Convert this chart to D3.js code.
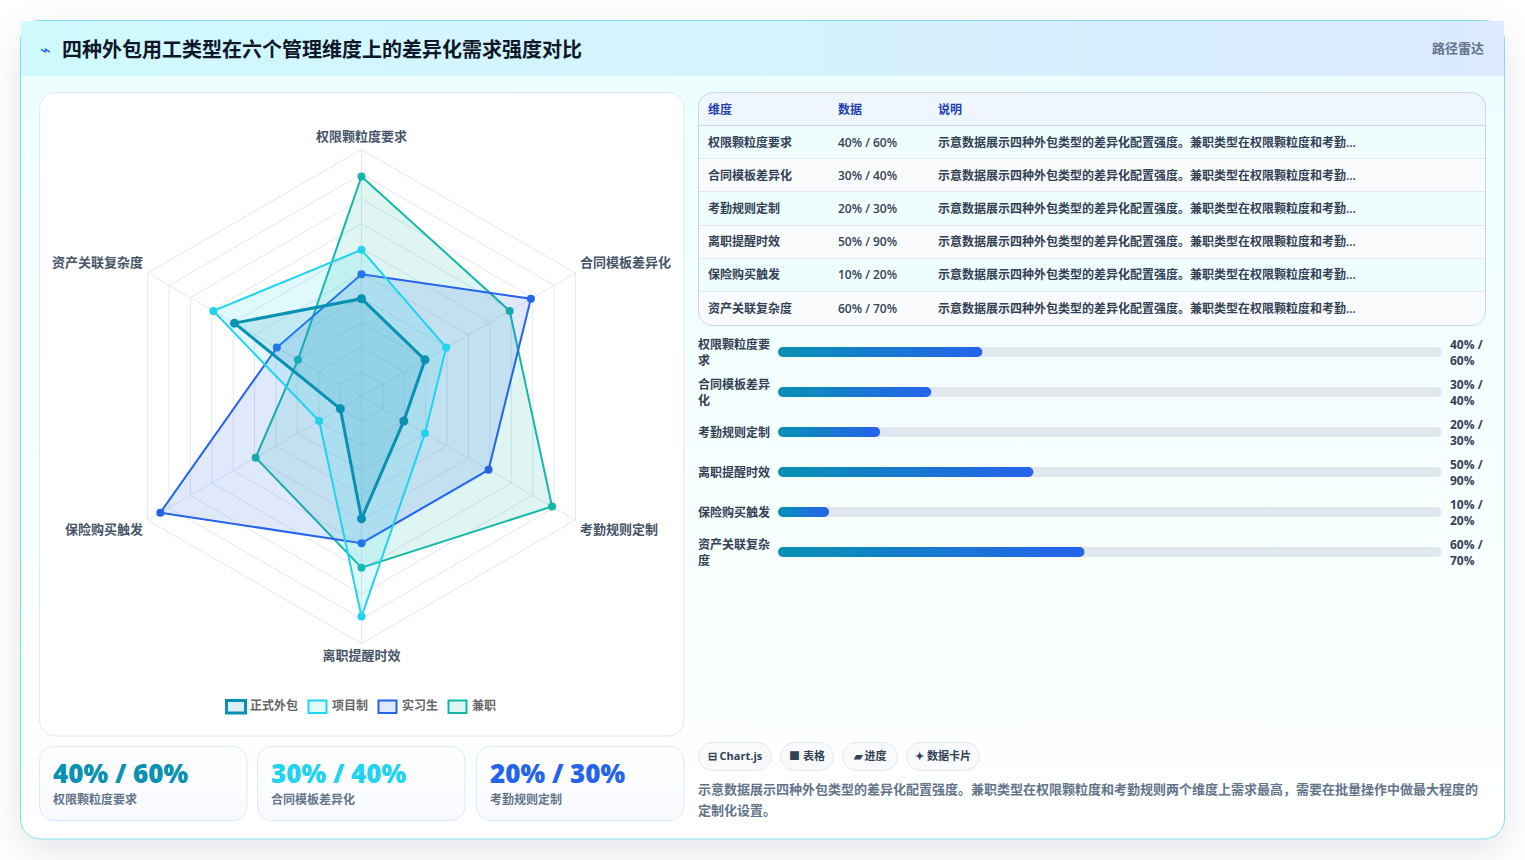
<!DOCTYPE html>
<html lang="zh-CN">
<head>
<meta charset="utf-8">
<title>外包用工差异化需求强度</title>
<script src="https://cdn.jsdelivr.net/npm/d3@7/dist/d3.min.js"></script>
<style>
  html, body { margin: 0; padding: 0; background: #fff; overflow: hidden; }
  svg { display: block; }
  text { font-family: "Open Sans", "Noto Sans CJK SC", sans-serif; }
</style>
</head>
<body>
<div id="root"></div>
<script>
// Management dimensions and demand strength (%) per staffing type
const dimensions = ["权限颗粒度要求", "合同模板差异化", "考勤规则定制", "离职提醒时效", "保险购买触发", "资产关联复杂度"];
const seriesNames = ["正式外包", "项目制", "实习生", "兼职"];
const seriesColors = ["#0891b2", "#22d3ee", "#2563eb", "#14b8a6"];
const formalValues = [40, 30, 20, 50, 10, 60];
const projectValues = [60, 40, 30, 90, 20, 70];
const internValues = [50, 80, 60, 60, 95, 40];
const partTimeValues = [90, 70, 90, 70, 50, 30];
const ringSteps = [1, 2, 3, 4, 5, 6, 7, 8, 9, 10];
const tableHeads = ["维度", "数据", "说明"];
const rowNote = "示意数据展示四种外包类型的差异化配置强度。兼职类型在权限颗粒度和考勤...";
const chipLabels = ["⊟ Chart.js", "■ 表格", "▰ 进度", "✦ 数据卡片"];
const noteLines = [
  "示意数据展示四种外包类型的差异化配置强度。兼职类型在权限颗粒度和考勤规则两个维度上需求最高，需要在批量操作中做最大程度的",
  "定制化设置。"
];
const titleText = "四种外包用工类型在六个管理维度上的差异化需求强度对比";
const badgeText = "路径雷达";

const allSeries = [formalValues, projectValues, internValues, partTimeValues];
const pairLabel = i => `${formalValues[i]}% / ${projectValues[i]}%`;

const svg = d3.select("#root").append("svg").attr("width", 1525).attr("height", 860);
const defs = svg.append("defs");

// Gradients and shadow
const addGradient = (id, x2, y2, stops) => {
  const g = defs.append("linearGradient").attr("id", id).attr("x1", 0).attr("y1", 0).attr("x2", x2).attr("y2", y2);
  stops.forEach(([o, c]) => g.append("stop").attr("offset", o).attr("stop-color", c));
};
addGradient("headGrad", 1, 0, [[0, "#cffafe"], [1, "#dbeafe"]]);
addGradient("bodyGrad", 0, 1, [[0, "#ecfeff"], [1, "#ffffff"]]);
addGradient("barGrad", 1, 0, [[0, "#0891b2"], [1, "#2563eb"]]);
addGradient("kpiGrad", 0, 1, [[0, "#ffffff"], [1, "#f8faff"]]);
const shadow = defs.append("filter").attr("id", "cardShadow")
  .attr("x", "-5%").attr("y", "-5%").attr("width", "110%").attr("height", "112%");
shadow.append("feDropShadow").attr("dx", 0).attr("dy", 12).attr("stdDeviation", 18)
  .attr("flood-color", "#0f172a").attr("flood-opacity", 0.10);
const tableClip = defs.append("clipPath").attr("id", "tableClip");
tableClip.append("rect").attr("x", 698.5).attr("y", 92.5).attr("width", 787).attr("height", 233).attr("rx", 14);

// Outer card and header band
svg.append("rect").attr("x", 20.5).attr("y", 20.5).attr("width", 1484).attr("height", 818.5).attr("rx", 20)
  .attr("fill", "url(#bodyGrad)").attr("stroke", "#7fdcec").attr("filter", "url(#cardShadow)");
svg.append("rect").attr("x", 21).attr("y", 21).attr("width", 1483).attr("height", 55).attr("fill", "url(#headGrad)");
svg.append("text").attr("x", 40).attr("y", 56).attr("font-size", 18).attr("fill", "#2563eb")
  .style("font-family", "'DejaVu Sans'").text("⌁");
svg.append("text").attr("x", 62).attr("y", 56.5).attr("font-size", 20).attr("font-weight", 700)
  .attr("fill", "#0f172a").text(titleText);
svg.append("text").attr("x", 1484).attr("y", 52.5).attr("text-anchor", "end").attr("font-size", 13)
  .attr("font-weight", 600).attr("fill", "#64748b").text(badgeText);

// Radar panel
svg.append("rect").attr("x", 39.5).attr("y", 92.5).attr("width", 644.5).attr("height", 643.5).attr("rx", 16)
  .attr("fill", "#fff").attr("stroke", "#e2e8f0");

const cx = 361.5, cy = 396.5;
const angle = d3.scalePoint().domain(d3.range(dimensions.length + 1)).range([0, 2 * Math.PI]);
const rScale = d3.scaleLinear().domain([0, 100]).range([0, 244.5]);
const ringScale = d3.scaleLinear().domain([0, 10]).range([0, 247]);
const radial = d3.lineRadial().angle((d, i) => angle(i)).radius(d => d).curve(d3.curveLinearClosed);
const radar = svg.append("g").attr("transform", `translate(${cx},${cy})`);

radar.selectAll("path.ring").data(ringSteps).join("path").attr("class", "ring")
  .attr("d", s => radial(dimensions.map(() => ringScale(s))))
  .attr("fill", "none").attr("stroke", "#e2e8f0");
radar.selectAll("line.spoke").data(dimensions).join("line").attr("class", "spoke")
  .attr("x2", (d, i) => ringScale(10) * Math.sin(angle(i)))
  .attr("y2", (d, i) => -ringScale(10) * Math.cos(angle(i)))
  .attr("stroke", "#e2e8f0");

// First series is painted last so it stays on top
const order = d3.range(allSeries.length).reverse();
order.forEach(s => {
  const values = allSeries[s], color = seriesColors[s];
  const layer = radar.append("g");
  layer.append("path").attr("d", radial(values.map(v => rScale(v))))
    .attr("fill", color).attr("fill-opacity", 0.14)
    .attr("stroke", color).attr("stroke-width", s === 0 ? 3 : 2).attr("stroke-linejoin", "miter");
  layer.selectAll("circle").data(values).join("circle")
    .attr("cx", (v, i) => rScale(v) * Math.sin(angle(i)))
    .attr("cy", (v, i) => -rScale(v) * Math.cos(angle(i)))
    .attr("r", s === 0 ? 4.5 : 4).attr("fill", color);
});

// Axis captions around the radar
const captionAt = [
  { x: 361.5, y: 140.5, a: "middle" }, { x: 580, y: 267, a: "start" }, { x: 580, y: 534, a: "start" },
  { x: 361.5, y: 659.5, a: "middle" }, { x: 143, y: 534, a: "end" }, { x: 143, y: 267, a: "end" }
];
svg.append("g").selectAll("text").data(dimensions).join("text")
  .attr("x", (d, i) => captionAt[i].x).attr("y", (d, i) => captionAt[i].y)
  .attr("text-anchor", (d, i) => captionAt[i].a)
  .attr("font-size", 13).attr("font-weight", 600).attr("fill", "#475569").text(d => d);

// Legend
const legendX = [[226.5, 19], [308.5, 18], [378.5, 18], [448.5, 18]];
const legend = svg.append("g").selectAll("g").data(seriesNames).join("g");
legend.append("rect")
  .attr("x", (d, i) => legendX[i][0]).attr("y", 700.5)
  .attr("width", (d, i) => legendX[i][1]).attr("height", 12.5)
  .attr("fill", (d, i) => seriesColors[i]).attr("fill-opacity", 0.14)
  .attr("stroke", (d, i) => seriesColors[i]).attr("stroke-width", (d, i) => i === 0 ? 3 : 2);
legend.append("text")
  .attr("x", (d, i) => legendX[i][0] + legendX[i][1] + (i === 0 ? 4.5 : 5.5)).attr("y", 710)
  .attr("font-size", 12).attr("font-weight", 600).attr("fill", "#666").text(d => d);

// Three headline cards
const kpiX = [39.5, 257.5, 476.5];
const kpi = svg.append("g").selectAll("g").data(d3.range(3)).join("g");
kpi.append("rect").attr("x", i => kpiX[i]).attr("y", 746.5).attr("width", 207.5).attr("height", 74).attr("rx", 14)
  .attr("fill", "url(#kpiGrad)").attr("stroke", "#dbeafe");
kpi.append("text").attr("x", i => kpiX[i] + 13.5).attr("y", 783).attr("font-size", 26).attr("font-weight", 800)
  .attr("fill", i => seriesColors[i]).text(i => pairLabel(i));
kpi.append("text").attr("x", i => kpiX[i] + 13.5).attr("y", 804).attr("font-size", 12).attr("font-weight", 600)
  .attr("fill", "#64748b").text(i => dimensions[i]);

// Data table
const table = svg.append("g");
const rowY = d3.scaleLinear().domain([0, 1]).range([125.5, 158.7]);
const colX = [708, 838, 938];
const tableBody = table.append("g").attr("clip-path", "url(#tableClip)");
tableBody.append("rect").attr("x", 698.5).attr("y", 92.5).attr("width", 787).attr("height", 33).attr("fill", "#eff6ff");
tableBody.selectAll("rect.row").data(dimensions).join("rect").attr("class", "row")
  .attr("x", 698.5).attr("y", (d, i) => rowY(i)).attr("width", 787).attr("height", 33.2)
  .attr("fill", (d, i) => i % 2 ? "#fafbfd" : "#f0fdff");
tableBody.selectAll("line.sep").data(dimensions).join("line").attr("class", "sep")
  .attr("x1", 698.5).attr("x2", 1485.5).attr("y1", (d, i) => Math.floor(rowY(i)) + 0.5).attr("y2", (d, i) => Math.floor(rowY(i)) + 0.5)
  .attr("stroke", (d, i) => i === 0 ? "#cbd5e1" : "#e2e8f0");
table.append("rect").attr("x", 698.5).attr("y", 92.5).attr("width", 787).attr("height", 233).attr("rx", 14)
  .attr("fill", "none").attr("stroke", "#cbd5e1");
table.selectAll("text.head").data(tableHeads).join("text").attr("class", "head")
  .attr("x", (d, i) => colX[i]).attr("y", 114).attr("font-size", 12).attr("font-weight", 700)
  .attr("fill", "#1e40af").text(d => d);
dimensions.forEach((d, i) => {
  const y = Math.round(rowY(i) + 21);
  [d, pairLabel(i), rowNote].forEach((t, c) => {
    table.append("text").attr("x", colX[c]).attr("y", y).attr("font-size", 12).attr("font-weight", 600)
      .attr("fill", "#334155").text(t);
  });
});

// Wrap a string into stacked lines no wider than maxWidth
function wrapped(sel, str, x, centerY, maxWidth, breakOnSpace) {
  const probe = sel.append("text").attr("font-size", 12).attr("font-weight", sel.attr("data-w"));
  const tokens = breakOnSpace ? str.split(/(?<= )(?=\d)/) : Array.from(str);
  const lines = [""];
  tokens.forEach(t => {
    probe.text(lines[lines.length - 1] + t);
    if (probe.node().getComputedTextLength() > maxWidth && lines[lines.length - 1]) lines.push(t);
    else lines[lines.length - 1] += t;
  });
  probe.remove();
  lines.forEach((l, k) => {
    sel.append("text").attr("x", x).attr("y", centerY + 4.5 + (k - (lines.length - 1) / 2) * 16)
      .attr("font-size", 12).attr("font-weight", sel.attr("data-w")).attr("fill", sel.attr("data-c")).text(l.trim());
  });
}

// Progress rows
const barX = d3.scaleLinear().domain([0, 130]).range([778, 1442]);
const barRow = d3.scaleLinear().domain([0, 1]).range([352, 392]);
const bars = svg.append("g");
dimensions.forEach((d, i) => {
  const y = barRow(i);
  wrapped(bars.append("g").attr("data-w", 600).attr("data-c", "#334155"), d, 698, y, 74, false);
  bars.append("rect").attr("x", barX(0)).attr("y", y - 5).attr("width", barX(130) - barX(0)).attr("height", 10).attr("rx", 5).attr("fill", "#e2e8f0");
  bars.append("rect").attr("x", barX(0)).attr("y", y - 5).attr("width", barX(formalValues[i]) - barX(0)).attr("height", 10).attr("rx", 5).attr("fill", "url(#barGrad)");
  wrapped(bars.append("g").attr("data-w", 700).attr("data-c", "#334155"), pairLabel(i), 1450, y, 36, true);
});

// Tag chips and closing note
const chipX = [[698.5, 73], [780.5, 53], [842.5, 55], [906.5, 73]];
const chips = svg.append("g").selectAll("g").data(chipLabels).join("g");
chips.append("rect").attr("x", (d, i) => chipX[i][0]).attr("y", 742.5).attr("width", (d, i) => chipX[i][1]).attr("height", 28).attr("rx", 14)
  .attr("fill", "#f8fafc").attr("stroke", "#e2e8f0");
chips.append("text").attr("x", (d, i) => chipX[i][0] + chipX[i][1] / 2).attr("y", 760).attr("text-anchor", "middle")
  .attr("font-size", 11).attr("font-weight", 700).attr("fill", "#334155").text(d => d);
svg.append("g").selectAll("text").data(noteLines).join("text")
  .attr("x", 698).attr("y", (d, i) => 794 + i * 20.5).attr("font-size", 13).attr("font-weight", 600)
  .attr("fill", "#64748b").text(d => d);
</script>
</body>
</html>
